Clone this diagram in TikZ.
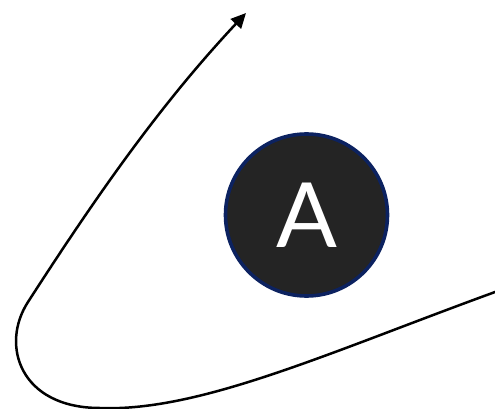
\documentclass[tikz,border=0pt]{standalone}
\usepackage{fontspec}
\setmainfont{Lato}
\usetikzlibrary{arrows.meta}
\definecolor{discfill}{HTML}{242424}
\definecolor{discborder}{HTML}{0C2260}
\tikzset{
  disc/.style={circle, fill=discfill, draw=discborder, line width=3.6pt,
    minimum size=162pt, inner sep=0pt, text=white, font=\fontsize{90}{90}\selectfont},
  curveline/.style={line width=2.5pt, black, -{Triangle[length=15pt,width=14pt]}}
}
\begin{document}
\begin{tikzpicture}[x=1pt,y=-1pt]
\useasboundingbox (0,0) rectangle (495,409);
\node[disc] (A) at (306.5,215) {A};
\coordinate (s) at (497,291.3);
\coordinate (b) at (100,408);
\coordinate (l) at (28,302);
\coordinate (e) at (246,13);
\draw[curveline] (s) .. controls (330,352) and (200,412) .. (b)
  .. controls (20,408) and (0,345) .. (l)
  .. controls (104,184) and (165,99.6) .. (e);
\end{tikzpicture}
\end{document}
